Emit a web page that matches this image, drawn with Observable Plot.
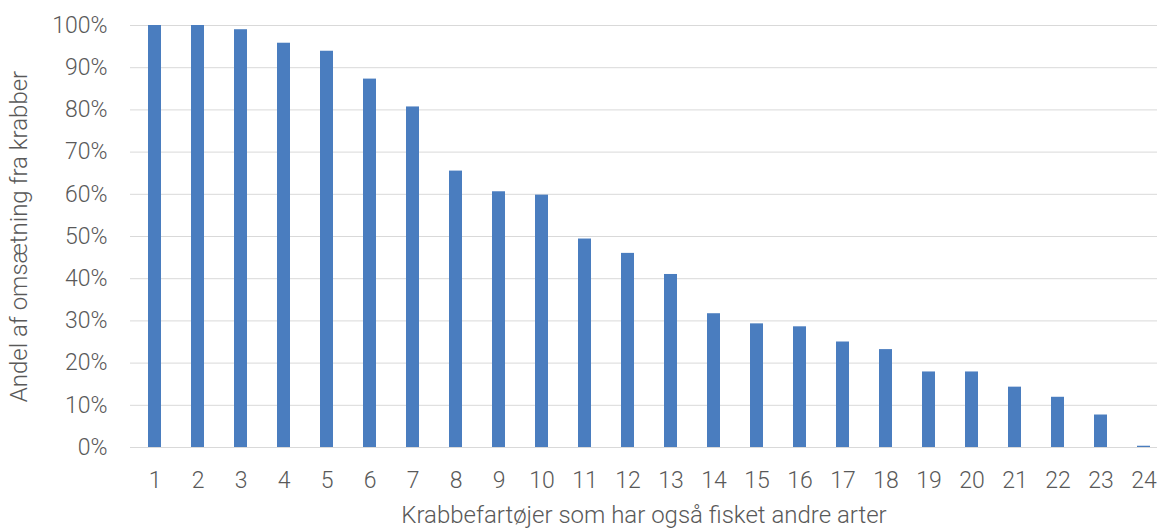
<!DOCTYPE html>
<html>
<head>
<meta charset="utf-8">
<script src="https://cdn.jsdelivr.net/npm/d3@7"></script>
<script src="https://cdn.jsdelivr.net/npm/@observablehq/plot@0.6"></script>
<style>
  html, body { margin: 0; padding: 0; background: #fff; }
  #chart svg { display: block; }
</style>
</head>
<body>
<div id="chart"></div>
<script>
const vessels = ["1","2","3","4","5","6","7","8","9","10","11","12","13","14","15","16","17","18","19","20","21","22","23","24"];
const shares = [100, 100, 99.0, 95.8, 93.9, 87.3, 80.7, 65.5, 60.6, 59.8, 49.4, 46.0, 41.0, 31.7, 29.3, 28.6, 25.0, 23.2, 17.9, 17.9, 14.3, 11.9, 7.7, 0.3];
const yTicks = [0, 10, 20, 30, 40, 50, 60, 70, 80, 90, 100];
const xTitle = "Krabbefartøjer som har også fisket andre arter";
const yTitle = "Andel af omsætning fra krabber";

const data = vessels.map((v, i) => ({vessel: v, share: shares[i]}));

const chart = Plot.plot({
  width: 1157,
  height: 530,
  marginLeft: 130,
  marginRight: 0,
  marginTop: 25,
  marginBottom: 83,
  style: {fontFamily: "Roboto, 'DejaVu Sans', sans-serif", fontSize: "23px", fontWeight: 300, color: "#595959", background: "#fff"},
  x: {domain: vessels, range: [131.5, 1165.5], paddingInner: 0.7, paddingOuter: 0.35},
  y: {domain: [0, 100]},
  marks: [
    Plot.gridY(yTicks, {stroke: "#d9d9d9", strokeOpacity: 1, strokeWidth: 1}),
    Plot.barY(data, {x: "vessel", y: "share", fill: "#4a7dbf"}),
    Plot.ruleY([0], {stroke: "#d9d9d9", strokeWidth: 1}),
    Plot.axisY(yTicks, {tickSize: 0, tickPadding: 23, tickFormat: d => d + "%", fontSize: 23, fill: "#595959",
      label: null}),
    Plot.axisY({tickSize: 0, ticks: [], fontSize: 24, fill: "#595959",
      label: yTitle, labelAnchor: "center", labelArrow: "none", labelOffset: 121}),
    Plot.axisX({tickSize: 0, tickPadding: 24, fontSize: 23, fill: "#595959", label: null}),
    Plot.axisX({tickSize: 0, ticks: [], fontSize: 24, fill: "#595959",
      label: xTitle, labelAnchor: "center", labelArrow: "none", labelOffset: 75})
  ]
});
document.getElementById("chart").appendChild(chart);
</script>
</body>
</html>
